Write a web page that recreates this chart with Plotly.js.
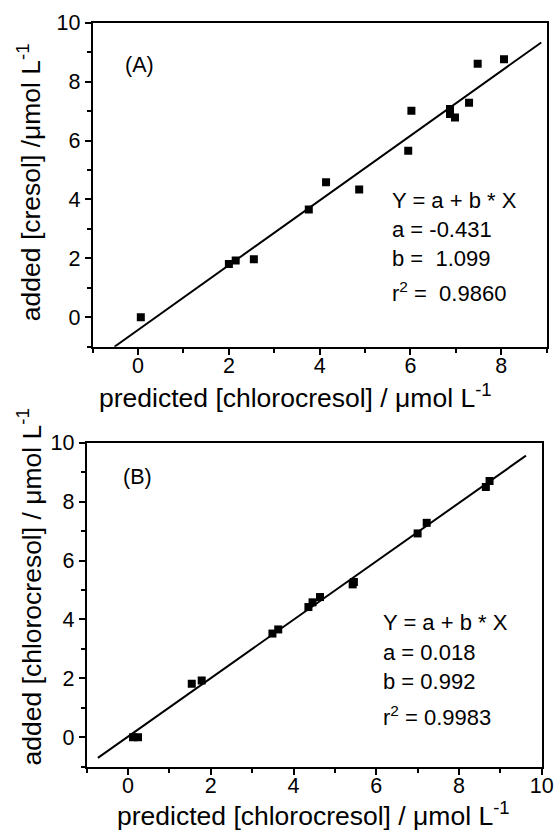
<!DOCTYPE html>
<html>
<head>
<meta charset="utf-8">
<script src="https://cdn.plot.ly/plotly-3.0.1.min.js"></script>
<style>
html,body{margin:0;padding:0;background:#fff;}
#chart{width:557px;height:832px;}
</style>
</head>
<body>
<div id="chart"></div>
<script>
// Panel A data: predicted [chlorocresol] vs added [cresol]
const predA = [0.06, 2.00, 2.15, 2.55, 3.76, 4.14, 4.87, 5.95, 6.02, 6.87, 6.87, 6.98, 7.29, 7.48, 8.06];
const addedA = [0.00, 1.81, 1.93, 1.97, 3.66, 4.58, 4.34, 5.65, 7.01, 7.07, 6.90, 6.78, 7.28, 8.61, 8.76];
const fitAx = [-0.52, 8.88];
const fitAy = [-1.00, 9.33];

// Panel B data: predicted [chlorocresol] vs added [chlorocresol]
const predB = [0.12, 0.24, 1.54, 1.78, 3.49, 3.63, 4.36, 4.46, 4.64, 5.43, 5.46, 7.00, 7.22, 8.65, 8.74];
const addedB = [0.00, 0.00, 1.82, 1.93, 3.52, 3.66, 4.42, 4.58, 4.76, 5.19, 5.27, 6.92, 7.28, 8.50, 8.70];
const fitBx = [-0.73, 9.62];
const fitBy = [-0.70, 9.56];

const tickValsA = [0, 2, 4, 6, 8];
const tickValsB = [0, 2, 4, 6, 8, 10];
const yTickVals = [0, 2, 4, 6, 8, 10];

const xTitle = 'predicted [chlorocresol] / \u03bcmol L<sup>-1</sup>';
const yTitleA = 'added [cresol] /\u03bcmol L<sup>-1</sup>';
const yTitleB = 'added [chlorocresol] / \u03bcmol L<sup>-1</sup>';
const eqA = ["Y = a + b * X", "a = -0.431", "b =\u00a0 1.099", "r<sup>2</sup> =\u00a0 0.9860"];
const eqB = ["Y = a + b * X", "a = 0.018", "b = 0.992", "r<sup>2</sup> = 0.9983"];

const FONT = "Liberation Sans, Arial, Helvetica, sans-serif";
const TITLE_SIZE = 26.5;

const traces = [
  {x: fitAx, y: fitAy, xaxis: 'x', yaxis: 'y', mode: 'lines', line: {color: 'black', width: 2}, hoverinfo: 'skip'},
  {x: predA, y: addedA, xaxis: 'x', yaxis: 'y', mode: 'markers', marker: {symbol: 'square', size: 8, color: 'black'}},
  {x: fitBx, y: fitBy, xaxis: 'x2', yaxis: 'y2', mode: 'lines', line: {color: 'black', width: 2}, hoverinfo: 'skip'},
  {x: predB, y: addedB, xaxis: 'x2', yaxis: 'y2', mode: 'markers', marker: {symbol: 'square', size: 8, color: 'black'}}
];

function axisBase(domain, range, tickvals, anchor, standoff) {
  return {
    domain: domain, range: range, anchor: anchor,
    tickmode: 'array', tickvals: tickvals,
    ticks: 'outside', ticklen: 6, tickwidth: 1.5, tickcolor: 'black',
    ticklabelstandoff: standoff,
    minor: {dtick: 1, tick0: 0, ticks: 'outside', ticklen: 4, tickwidth: 1.5, tickcolor: 'black', showgrid: false},
    showline: true, linewidth: 2, linecolor: 'black', mirror: true,
    showgrid: false, zeroline: false,
    tickfont: {family: FONT, size: 21.5, color: 'black'}
  };
}

const annotations = [];
function addText(text, xref, yref, x, y, size, xanchor, angle) {
  annotations.push({text: text, xref: xref, yref: yref, x: x, y: y, xanchor: xanchor, yanchor: 'middle',
    textangle: angle || 0, showarrow: false, font: {family: FONT, size: size, color: 'black'}});
}
// axis titles
addText(xTitle, 'paper', 'paper', 0.5305, 0.524, TITLE_SIZE, 'center');
addText(xTitle, 'paper', 'paper', 0.5628, 0.022, TITLE_SIZE, 'center');
addText(yTitleA, 'paper', 'paper', 0.052, 0.781, TITLE_SIZE, 'center', -90);
addText(yTitleB, 'paper', 'paper', 0.052, 0.295, TITLE_SIZE, 'center', -90);
// panel labels
addText('(A)', 'x', 'y', -0.33, 8.58, 21.5, 'left');
addText('(B)', 'x2', 'y2', -0.17, 8.82, 21.5, 'left');
// regression results
const eqAy = [3.96, 2.97, 1.99, 0.85];
const eqBy = [3.88, 2.87, 1.89, 0.72];
eqA.forEach((t, i) => addText(t, 'x', 'y', 5.55, eqAy[i], 22, 'left'));
eqB.forEach((t, i) => addText(t, 'x2', 'y2', 6.12, eqBy[i], 22, 'left'));

const layout = {
  width: 557, height: 832,
  margin: {l: 0, r: 0, t: 0, b: 0},
  paper_bgcolor: 'white', plot_bgcolor: 'white',
  showlegend: false,
  font: {family: FONT, color: 'black'},
  xaxis: axisBase([0.1664, 0.9815], [-1, 9], tickValsA, 'y', -7),
  yaxis: axisBase([0.5833, 0.9727], [-1, 10], yTickVals, 'x', 0),
  xaxis2: axisBase([0.1557, 0.9725], [-1, 10], tickValsB, 'y2', -7),
  yaxis2: axisBase([0.0785, 0.4679], [-1, 10], yTickVals, 'x2', 0),
  annotations: annotations
};

Plotly.newPlot('chart', traces, layout, {displayModeBar: false});
</script>
</body>
</html>
